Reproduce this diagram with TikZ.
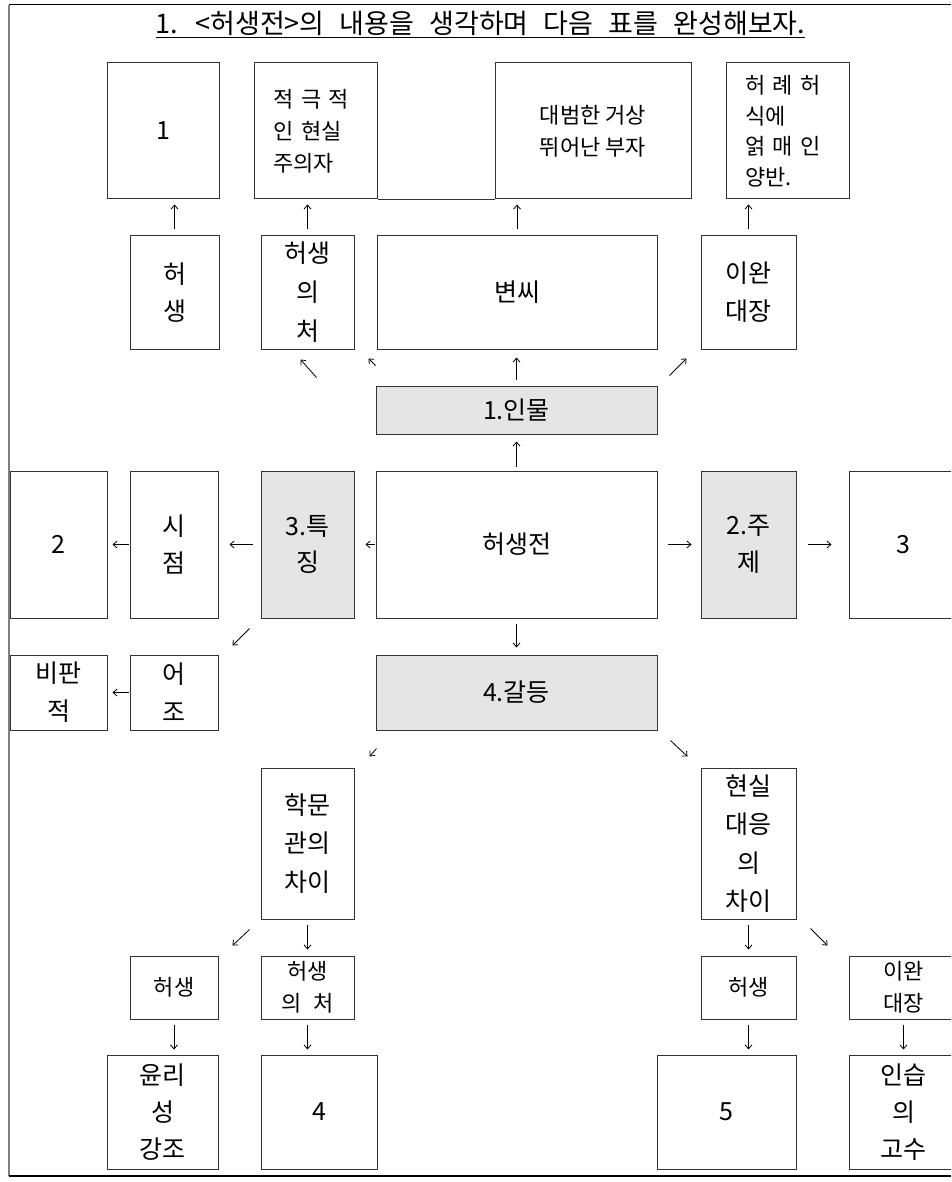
\documentclass[tikz,border=0pt]{standalone}
\usepackage{fontspec}
\setmainfont{Noto Sans CJK KR}
\newfontfamily\titlefont{Noto Sans CJK KR}[WordSpace=2.5]
\usetikzlibrary{arrows.meta, calc}
\definecolor{cLinea}{HTML}{333333}
\definecolor{cGris}{HTML}{E5E5E5}
\definecolor{cMarco}{HTML}{7F7F7F}

\begin{document}
\begin{tikzpicture}[
    x=1pt, y=-1pt,
    box/.style={draw=cLinea, line width=1pt, inner sep=0pt, align=center,
                font=\fontsize{25}{38}\selectfont},
    key/.style={box, fill=cGris},
    note/.style={box, font=\fontsize{22}{32}\selectfont},
    arr/.style={-{Straight Barb[length=4pt, width=7pt]}, line width=0.8pt},
]
\useasboundingbox (0,0) rectangle (951,1182);
\clip (0,0) rectangle (951,1182);

% ===================== Marco y enunciado =====================
\draw[line width=1pt] (9,4.7) -- (951,4.7);
\draw[cMarco, line width=1.8pt] (9,4.7) -- (9,1176);
\draw[line width=1.3pt] (9,1176) -- (951,1176);
\node[font=\fontsize{27}{30}\selectfont\titlefont, anchor=base, inner sep=0pt]
      (titulo) at (480.5,34) {\underline{1. <허생전>의 내용을 생각하며 다음 표를 완성해보자.}};

% ===================== Fila superior: respuestas =====================
\node[box, minimum width=112, minimum height=136] (r1) at (163,131) {1};
\node[note, align=left, text width=84, inner xsep=19.5, minimum height=136]
      (rCheo) at (315.5,131)
      {\makebox[84pt][s]{적 극 적}\\\makebox[84pt][s]{인 현실}\\주의자};
\node[note, minimum width=196, minimum height=136] (rByeon) at (593,131)
      {대범한 거상\\뛰어난 부자};
\node[note, align=left, text width=85, inner xsep=19, minimum height=136,
      font=\fontsize{22}{30.5}\selectfont] (rIwan) at (787.5,131)
      {\makebox[85pt][s]{허 례 허}\\식에\\\makebox[85pt][s]{얽 매 인}\\양반.};
\draw[cLinea, line width=1pt] (rCheo.south east) -- (rByeon.south west);

% ===================== Personajes =====================
\node[box, minimum width=89, minimum height=113, font=\fontsize{25}{36.7}\selectfont]
      (heo) at (174.5,292.5) {허\\생};
\node[box, minimum width=93, minimum height=113, font=\fontsize{25}{39}\selectfont]
      (cheo) at (307.5,292.5) {허생\\의\\처};
\node[box, minimum width=280, minimum height=113] (byeon) at (517,292.5) {변씨};
\node[box, minimum width=95, minimum height=113] (iwan) at (748.5,292.5) {이완\\대장};

\draw[arr, shorten <=6pt, shorten >=5pt] (heo.north) -- (heo.north |- r1.south);
\draw[arr, shorten <=6pt, shorten >=5pt] (cheo.north) -- (cheo.north |- rCheo.south);
\draw[arr, shorten <=6pt, shorten >=5pt] (byeon.north) -- (byeon.north |- rByeon.south);
\draw[arr, shorten <=6pt, shorten >=5pt] (iwan.north) -- (iwan.north |- rIwan.south);

% ===================== 1. Personajes =====================
\node[key, minimum width=281, minimum height=48] (inmul) at (516.5,410) {1.인물};
\draw[arr, shorten <=6pt, shorten >=8pt] (inmul.north) -- (inmul.north |- byeon.south);
\draw[arr] ($(cheo.south)+(9,28)$) -- ++(-16,-18);
\draw[arr] ($(byeon.south west)+(-1,16)$) -- ++(-7,-7);
\draw[arr] ($(iwan.south west)+(-31,26)$) -- ++(17,-17);

% ===================== Fila central =====================
\node[box, minimum width=97, minimum height=147] (r2) at (58.5,544.5) {2};
\node[box, minimum width=88, minimum height=147, font=\fontsize{25}{36.7}\selectfont]
      (sijeom) at (174,544.5) {시\\점};
\node[key, minimum width=93, minimum height=147, font=\fontsize{25}{36.7}\selectfont]
      (teuk) at (307.5,544.5) {3.특\\징};
\node[box, minimum width=281, minimum height=147] (obra) at (516.5,544.5) {허생전};
\node[key, minimum width=95, minimum height=147, font=\fontsize{25}{36.7}\selectfont]
      (juje) at (748.5,544.5) {2.주\\제};
\node[box, minimum width=109, minimum height=147] (r3) at (903.5,544.5) {3};

\draw[arr, shorten <=4pt, shorten >=7pt] (obra.north) -- (inmul.south);
\draw[arr, shorten <=1pt, shorten >=11pt] (obra.west) -- (teuk.east);
\draw[arr, shorten <=8pt, shorten >=11pt] (teuk.west) -- (sijeom.east);
\draw[arr, shorten <=1pt, shorten >=5pt] (sijeom.west) -- (r2.east);
\draw[arr, shorten <=10pt, shorten >=9pt] (obra.east) -- (juje.west);
\draw[arr, shorten <=11pt, shorten >=17pt] (juje.east) -- (r3.west);

% ===================== Tono y 4. Conflicto =====================
\node[box, minimum width=97, minimum height=75] (bipan) at (58.5,692.5) {비판\\적};
\node[box, minimum width=88, minimum height=75] (eojo) at (174,692.5) {어\\조};
\node[key, minimum width=281, minimum height=75] (galdeung) at (516.5,692.5) {4.갈등};

\draw[arr] ($(teuk.south west)+(-11,10)$) -- ++(-17,17);
\draw[arr, shorten <=1pt, shorten >=5pt] (eojo.west) -- (bipan.east);
\draw[arr, shorten <=5pt, shorten >=7pt] (obra.south) -- (galdeung.north);
\draw[arr] ($(galdeung.south west)+(1,18)$) -- ++(-7,8);
\draw[arr] ($(galdeung.south east)+(13,10)$) -- ++(17,16);

% ===================== Diferencias =====================
\node[box, minimum width=93, minimum height=151, font=\fontsize{25}{38.3}\selectfont]
      (hakmun) at (307.5,843.5) {학문\\관의\\차이};
\node[box, minimum width=95, minimum height=151, font=\fontsize{25}{38.3}\selectfont]
      (hyeonsil) at (748.5,843.5) {현실\\대응\\의\\차이};

\node[note, minimum width=88, minimum height=63] (heoA) at (174,987.5) {허생};
\node[note, minimum width=93, minimum height=63, font=\fontsize{22}{31.7}\selectfont]
      (cheoA) at (307.5,987.5) {허생\\의\enspace 처};
\node[note, minimum width=95, minimum height=63] (heoB) at (748.5,987.5) {허생};
\node[note, minimum width=109, minimum height=63, font=\fontsize{22}{31.7}\selectfont]
      (iwanB) at (903.5,987.5) {이완\\대장};

\draw[arr] ($(hakmun.south west)+(-11,10)$) -- ++(-17,16);
\draw[arr, shorten <=5pt, shorten >=6pt] (hakmun.south) -- (cheoA.north);
\draw[arr, shorten <=5pt, shorten >=6pt] (hyeonsil.south) -- (heoB.north);
\draw[arr] ($(hyeonsil.south east)+(14,9)$) -- ++(17,17);

% ===================== Fila inferior =====================
\node[box, minimum width=111, minimum height=114, font=\fontsize{25}{36.7}\selectfont]
      (yunri) at (162.5,1112) {윤리\\성\\강조};
\node[box, minimum width=116, minimum height=114] (r4) at (319,1112) {4};
\node[box, minimum width=139, minimum height=114] (r5) at (726.5,1112) {5};
\node[box, minimum width=109, minimum height=114, font=\fontsize{25}{37}\selectfont]
      (inseup) at (903.5,1112) {인습\\의\\고수};

\draw[arr, shorten <=5pt, shorten >=5pt] (heoA.south) -- (heoA.south |- yunri.north);
\draw[arr, shorten <=5pt, shorten >=5pt] (cheoA.south) -- (cheoA.south |- r4.north);
\draw[arr, shorten <=5pt, shorten >=5pt] (heoB.south) -- (heoB.south |- r5.north);
\draw[arr, shorten <=5pt, shorten >=5pt] (iwanB.south) -- (iwanB.south |- inseup.north);

\end{tikzpicture}
\end{document}
